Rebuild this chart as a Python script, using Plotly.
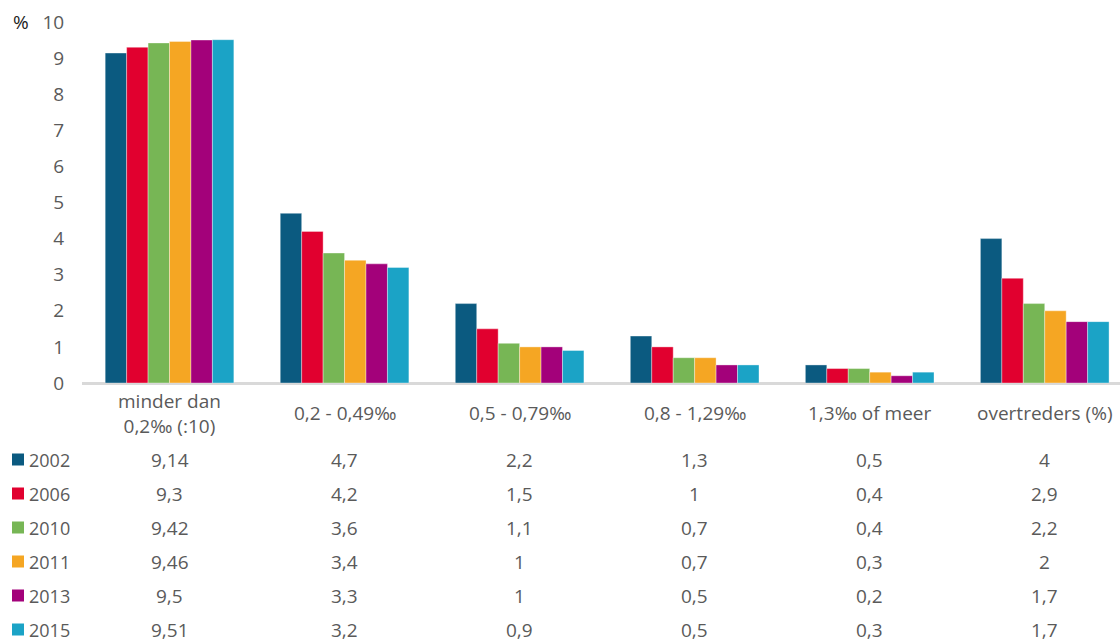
import plotly.graph_objects as go

# Blood alcohol categories (first group is divided by 10)
categories = ["minder dan<br>0,2‰ (:10)", "0,2 - 0,49‰", "0,5 - 0,79‰",
              "0,8 - 1,29‰", "1,3‰ of meer", "overtreders (%)"]
years = ["2002", "2006", "2010", "2011", "2013", "2015"]

v2002 = [9.14, 4.7, 2.2, 1.3, 0.5, 4]
v2006 = [9.3, 4.2, 1.5, 1, 0.4, 2.9]
v2010 = [9.42, 3.6, 1.1, 0.7, 0.4, 2.2]
v2011 = [9.46, 3.4, 1, 0.7, 0.3, 2]
v2013 = [9.5, 3.3, 1, 0.5, 0.2, 1.7]
v2015 = [9.51, 3.2, 0.9, 0.5, 0.3, 1.7]

series = [v2002, v2006, v2010, v2011, v2013, v2015]
colors = ["#0b5a80", "#e1002f", "#77b655", "#f5a623", "#a3017a", "#1ba3c6"]

y_ticks = list(range(0, 11))

FONT = "Open Sans"
GREY = "#5a5a5a"
W, H = 1120, 644

x_pos = list(range(len(categories)))

fig = go.Figure()
for yr, vals, col in zip(years, series, colors):
    fig.add_trace(go.Bar(
        x=x_pos, y=vals, name=yr,
        marker=dict(color=col, line=dict(width=0.6, color="rgba(255,255,255,0.6)")),
        showlegend=False, hoverinfo="x+y",
    ))

def fmt(v):
    return f"{v:g}".replace(".", ",")

# plot area in pixels
top_px, base_px = 22, 383
y_dom = [1 - base_px / H, 1 - top_px / H]

annotations = []
# category labels under the axis
for i, cat in enumerate(categories):
    annotations.append(dict(
        x=i, xref="x", y=1 - 413 / H, yref="paper", text=cat,
        showarrow=False, xanchor="center", yanchor="middle",
        font=dict(family=FONT, size=19, color=GREY), align="center",
    ))

# data table rows
row_y = [459.5, 493.5, 527.5, 561.5, 595.5, 629.5]
shapes = []
for r, (yr, vals, col) in enumerate(zip(years, series, colors)):
    yp = 1 - row_y[r] / H
    annotations.append(dict(
        x=27 / W, xref="paper", y=yp, yref="paper", text=yr,
        showarrow=False, xanchor="left", yanchor="middle",
        font=dict(family=FONT, size=18, color=GREY),
    ))
    shapes.append(dict(
        type="rect", xref="paper", yref="paper",
        x0=12 / W, x1=24 / W, y0=1 - (row_y[r] + 6) / H, y1=1 - (row_y[r] - 6) / H,
        fillcolor=col, line=dict(width=0),
    ))
    for i, v in enumerate(vals):
        annotations.append(dict(
            x=i, xref="x", y=yp, yref="paper", text=fmt(v),
            showarrow=False, xanchor="center", yanchor="middle",
            font=dict(family=FONT, size=19, color=GREY),
        ))

# unit label
annotations.append(dict(
    x=11 / W, xref="paper", y=1 - 22 / H, yref="paper", text="%",
    showarrow=False, xanchor="left", yanchor="middle",
    font=dict(family=FONT, size=19, color="#222222"),
))

fig.update_layout(
    width=W, height=H, autosize=False,
    margin=dict(l=0, r=0, t=0, b=0, pad=0),
    paper_bgcolor="white", plot_bgcolor="white",
    barmode="group", bargap=0.265, bargroupgap=0,
    xaxis=dict(
        domain=[82 / W, 1.0], range=[-0.5, 5.43], automargin=False,
        showticklabels=False, ticks="", showgrid=False, zeroline=False,
        showline=False, fixedrange=True,
    ),
    yaxis=dict(
        domain=y_dom, range=[0, 10], tickvals=y_ticks, automargin=False,
        ticks="outside", ticklen=13, tickcolor="rgba(0,0,0,0)",
        tickfont=dict(family=FONT, size=19, color=GREY),
        showgrid=False, zeroline=True, zerolinecolor="#d9d9d9", zerolinewidth=2.5,
        showline=False, fixedrange=True,
    ),
    annotations=annotations,
    shapes=shapes,
)

fig.write_html("out.html")
